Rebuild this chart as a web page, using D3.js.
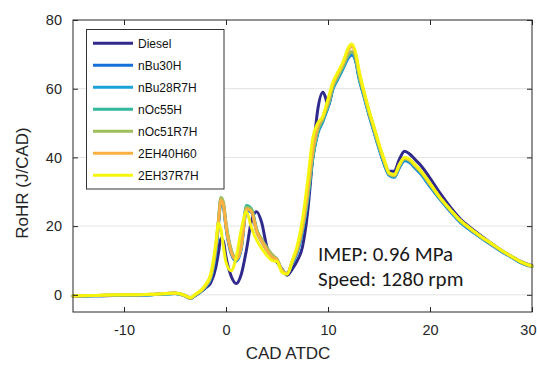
<!DOCTYPE html>
<html><head><meta charset="utf-8">
<script src="https://cdn.jsdelivr.net/npm/d3@7"></script>
<style>
html,body{margin:0;padding:0;background:#fff;}
svg{display:block;}
</style></head>
<body>
<svg id="chart" width="537" height="369"></svg>
<script>
const cad = [-15,-13,-11,-9,-7,-5,-4,-3.5,-3,-2.5,-2,-1.5,-1,-0.75,-0.5,-0.25,0,0.5,1,1.5,2,2.5,3,3.5,4,4.5,5,5.5,6,6.5,7,7.5,8,8.5,9,9.5,9.75,10,10.5,11,11.5,12,12.35,12.75,13,13.5,14,14.5,15,15.5,16,16.5,17,17.5,18,18.5,19,20,21,22,23,24,25,26,27,28,29,30];

const seriesNames = ["Diesel","nBu30H","nBu28R7H","nOc55H","nOc51R7H","2EH40H60","2EH37R7H"];
const seriesColors = ["#2f2a8c","#1570d8","#1aa3d9","#30b79c","#9fbe5c","#fbb044","#f6f50e"];

const diesel = [-0.4,-0.3,-0.2,-0.1,0.1,0.5,-0.2,-0.9,-0.2,0.8,2,3.5,8,12,16.5,15.5,11,5.5,3.3,6,13,21.5,24.2,21,14,11,9.5,7.5,5.7,7.5,10,14,24,40,54,59,57.5,55,60.5,63.5,66.5,69.5,70.5,68,64.5,59,53.5,48.5,43.5,39,36,36,39.5,41.8,41,39.5,38,34,29.5,25.5,22,19.5,17.2,15,13,11.2,9.6,8.5];
const nBu30H = [-0.3,-0.3,-0.1,0,0.1,0.4,-0.3,-1.1,-0.1,0.9,2.3,4.8,12.5,20,27,25.5,19.5,12,9.8,13.5,24.5,24,18.5,15.5,13,11,10,7,6.2,9.2,12.5,18.5,27.5,39.5,47,50.5,52.5,54.5,60,63,66,69,69.8,67.5,63.5,58,52.5,47.5,42.5,38,34.8,34.2,37,39,38.5,37,35.5,31.5,27.7,24.2,21,18.7,16.6,14.6,12.6,10.9,9.2,8.2];
const nBu28R7H = [-0.3,-0.2,-0.1,0,0.1,0.4,-0.3,-1.1,-0.1,0.9,2.4,4.9,13,20.5,27.5,26,20,12.5,10,13.8,25,24.5,18.8,15.6,13.2,11.2,10.1,7,6.1,9.3,12.8,18.8,27.8,39.8,47.3,50.8,52.8,54.8,60.2,63.2,66.2,69.5,70.3,67.8,63.8,58.2,52.8,47.8,42.8,38.2,34.9,34.3,37.2,39.3,38.8,37.3,35.7,31.7,27.8,24.3,21.1,18.8,16.7,14.7,12.7,11,9.2,8.2];
const nOc55H = [-0.3,-0.2,-0.1,0,0.1,0.4,-0.3,-1,0,1,2.5,5,13.5,21,28,26.5,20.5,13,10.3,14.5,26,25,19,16,13.5,11.5,10.3,7.2,6.2,9.5,13,19,28,40,47.5,51,53,55,60.5,63.5,66.5,69.8,70.6,68.2,64.2,58.5,53,48,43,38.5,35,34.5,37.5,39.5,39,37.5,36,32,28,24.5,21.3,19,16.8,14.8,12.8,11,9.3,8.3];
const nOc51R7H = [-0.3,-0.2,-0.1,0,0.2,0.4,-0.3,-1,0,1,2.6,5.2,14,21.5,28.3,27,21,13.3,10.5,14.3,25.5,24.8,19,16.2,13.8,11.8,10.4,7.2,6.3,9.6,13.2,19.3,28.5,40.5,48,51.3,53.3,55.3,60.8,63.8,66.8,70,70.8,68.5,64.5,58.8,53.2,48.2,43.2,38.7,35.2,34.6,37.6,39.6,39.1,37.6,36.1,32.1,28.1,24.6,21.4,19.1,16.9,14.9,12.9,11.1,9.4,8.3];
const eh40H60 = [-0.4,-0.2,0,0,0.2,0.5,-0.2,-1,0.1,1.1,2.7,5.5,14,21,27.5,26,20,12.5,10.2,14,25,24.2,18.5,15.5,13,11,10.2,7,6.2,9.8,13.5,20,30,42,49,51.8,54,56.3,61.5,64.5,67.5,71.3,72.2,69.5,65.5,59.2,53.7,48.7,43.7,39.2,35.4,34.8,37.8,39.8,39.3,37.8,36.3,32.3,28.2,24.7,21.5,19.1,16.9,14.9,12.9,11.1,9.4,8.3];
const eh37R7H = [-0.3,-0.2,0,0,0.2,0.5,-0.2,-0.8,0.2,1.2,3,6,15,20.8,19,14,9.5,7,11,19,24.2,19.5,16,13.5,11.5,10,9.7,6.5,6,10,14.5,22,33,45.5,50,52,54.5,57,62,65,68,72,73,70,66,59.5,54,49,44,39.5,35.5,35,38,40,39.5,38,36.5,32.5,28.3,24.8,21.6,19.2,17,15,13,11.2,9.5,8.4];

const xTicks = [-10,0,10,20,30];
const yTicks = [0,20,40,60,80];
const annotation = ["IMEP: 0.96 MPa","Speed: 1280 rpm"];

const seriesValues = [diesel,nBu30H,nBu28R7H,nOc55H,nOc51R7H,eh40H60,eh37R7H];
const series = seriesNames.map((n,i)=>({name:n,color:seriesColors[i],
  pts: cad.map((c,j)=>({x:c,y:seriesValues[i][j]}))}));

const svg = d3.select("#chart");
const L=73,R=532,T=20,B=312;
const x = d3.scaleLinear().domain([-15,30]).range([L,R]);
const y = d3.scaleLinear().domain([-5,80]).range([B,T]);
const axisColor="#262626";
const tickFont="'Liberation Sans', Arial, Helvetica, sans-serif";
const fmt = d=>String(d).replace("\u2212","-");

// gridlines
svg.append("g").selectAll("line").data(yTicks.filter(v=>v<80)).join("line")
  .attr("x1",L).attr("x2",R).attr("y1",d=>y(d)).attr("y2",d=>y(d))
  .attr("stroke","#e3e3e3").attr("stroke-width",1);

// curves
const line = d3.line().x(d=>x(d.x)).y(d=>y(d.y)).curve(d3.curveMonotoneX);
svg.append("g").selectAll("path").data(series).join("path")
  .attr("d",d=>line(d.pts)).attr("fill","none")
  .attr("stroke",d=>d.color).attr("stroke-width",3)
  .attr("stroke-linejoin","round").attr("stroke-linecap","round");

// axes
const gx = svg.append("g").attr("transform",`translate(0,${B})`)
  .call(d3.axisBottom(x).tickValues(xTicks).tickSizeInner(-5).tickSizeOuter(0).tickPadding(13).tickFormat(fmt));
const gxt = svg.append("g").attr("transform",`translate(0,${T})`)
  .call(d3.axisTop(x).tickValues(xTicks).tickSizeInner(-5).tickSizeOuter(0).tickFormat(""));
const gy = svg.append("g").attr("transform",`translate(${L},0)`)
  .call(d3.axisLeft(y).tickValues(yTicks).tickSizeInner(-5).tickSizeOuter(0).tickPadding(11).tickFormat(fmt));
const gyr = svg.append("g").attr("transform",`translate(${R},0)`)
  .call(d3.axisRight(y).tickValues(yTicks).tickSizeInner(-5).tickSizeOuter(0).tickFormat(""));
[gx,gxt,gy,gyr].forEach(g=>{
  g.select(".domain").remove();
  g.selectAll(".tick line").attr("stroke",axisColor);
  g.selectAll("text").attr("fill",axisColor).style("font-family",tickFont).style("font-size","14.5px");
});
// keep last x tick label inside the picture
gx.selectAll(".tick text").filter(d=>d===30).attr("text-anchor","end").attr("x",4);
svg.append("rect").attr("x",L).attr("y",T).attr("width",R-L).attr("height",B-T)
  .attr("fill","none").attr("stroke",axisColor).attr("stroke-width",1);

// axis labels
svg.append("text").attr("x",288).attr("y",359).attr("text-anchor","middle")
  .attr("fill",axisColor).style("font-family",tickFont).style("font-size","17px").text("CAD ATDC");
svg.append("text").attr("transform","translate(28,183) rotate(-90)").attr("text-anchor","middle")
  .attr("fill",axisColor).style("font-family",tickFont).style("font-size","17px").text("RoHR (J/CAD)");

// legend
const lg = svg.append("g");
lg.append("rect").attr("x",86.5).attr("y",29.5).attr("width",137.5).attr("height",159.5)
  .attr("fill","#fff").attr("stroke","#333").attr("stroke-width",1);
const rows = lg.selectAll("g.row").data(series).join("g").attr("class","row")
  .attr("transform",(d,i)=>`translate(0,${43.3+i*22})`);
rows.append("line").attr("x1",93).attr("x2",133).attr("y1",0).attr("y2",0)
  .attr("stroke",d=>d.color).attr("stroke-width",3);
rows.append("text").attr("x",138).attr("y",0).attr("dy","0.35em")
  .style("font-family",tickFont).style("font-size","12px").attr("fill","#111").text(d=>d.name);

// annotation
svg.append("g").selectAll("text").data(annotation).join("text")
  .attr("x",318).attr("y",(d,i)=>260.5+i*25.5)
  .style("font-family","Carlito, Calibri, Lato, sans-serif").style("font-size","21px")
  .attr("fill","#1a1a1a").text(d=>d);
</script>
</body></html>
